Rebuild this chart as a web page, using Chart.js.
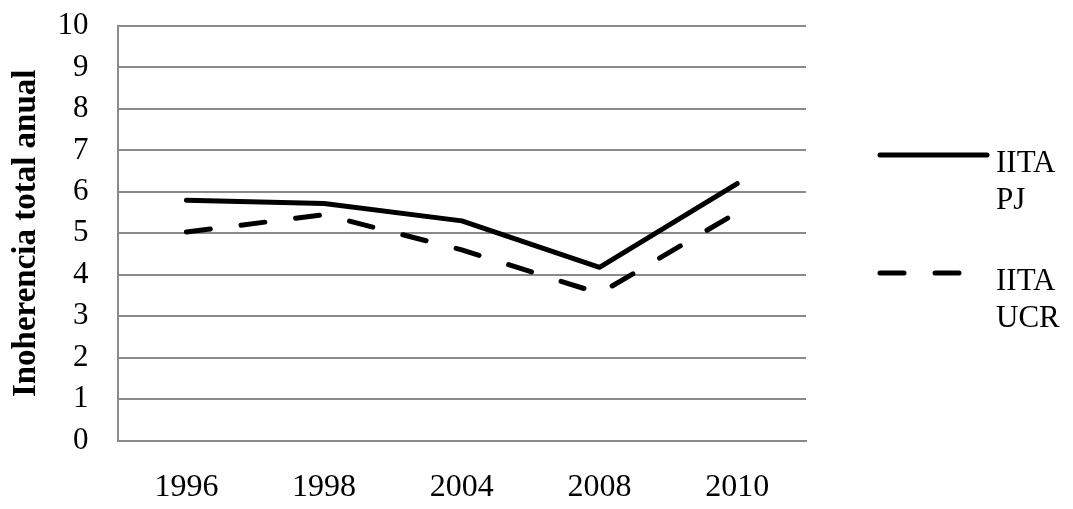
<!DOCTYPE html>
<html>
<head>
<meta charset="utf-8">
<script src="https://cdn.jsdelivr.net/npm/chart.js@4/dist/chart.umd.min.js"></script>
<style>
html,body{margin:0;padding:0;background:#fff;}
#wrap{width:1073px;height:509px;}
</style>
</head>
<body>
<div id="wrap"><canvas id="c" width="1073" height="509"></canvas></div>
<script>
const categories = ['1996', '1998', '2004', '2008', '2010'];
const seriesPJ = [5.8, 5.72, 5.3, 4.18, 6.2];
const seriesUCR = [5.03, 5.45, 4.6, 3.55, 5.5];
const labelPJ = ['IITA', 'PJ'];
const labelUCR = ['IITA', 'UCR'];
const yTitle = 'Inoherencia total anual';

const FONT = "'Liberation Serif', 'Times New Roman', serif";

const customLegend = {
  id: 'customLegend',
  afterDraw(chart) {
    const ctx = chart.ctx;
    const items = [
      {ds: chart.data.datasets[0], y: 155},
      {ds: chart.data.datasets[1], y: 273}
    ];
    ctx.save();
    items.forEach(it => {
      ctx.beginPath();
      ctx.lineWidth = it.ds.borderWidth;
      ctx.strokeStyle = it.ds.borderColor;
      ctx.lineCap = 'round';
      ctx.setLineDash(it.ds.borderDash || []);
      ctx.moveTo(880, it.y);
      ctx.lineTo(987, it.y);
      ctx.stroke();
      ctx.setLineDash([]);
      ctx.fillStyle = '#000';
      ctx.font = '31px ' + FONT;
      ctx.textBaseline = 'middle';
      ctx.textAlign = 'left';
      it.ds.label.forEach((t, i) => {
        ctx.fillText(t, 996, it.y + 9 + i * 37);
      });
    });
    ctx.restore();
  }
};

new Chart(document.getElementById('c'), {
  type: 'line',
  data: {
    labels: categories,
    datasets: [
      {
        label: labelPJ,
        data: seriesPJ,
        borderColor: '#000',
        borderWidth: 5,
        pointRadius: 0,
        tension: 0,
        borderCapStyle: 'round',
        borderJoinStyle: 'round',
        fill: false
      },
      {
        label: labelUCR,
        data: seriesUCR,
        borderColor: '#000',
        borderWidth: 5,
        borderDash: [24, 31],
        pointRadius: 0,
        tension: 0,
        borderCapStyle: 'round',
        borderJoinStyle: 'round',
        fill: false
      }
    ]
  },
  options: {
    responsive: false,
    animation: false,
    devicePixelRatio: 1,
    layout: { padding: { left: 0, right: 267, top: 26, bottom: 0 } },
    plugins: {
      legend: { display: false },
      tooltip: { enabled: false }
    },
    scales: {
      x: {
        offset: true,
        grid: { display: false, drawTicks: true, tickLength: 26, tickColor: 'rgba(0,0,0,0)' },
        border: { display: true, color: '#8a8a8a', width: 2 },
        ticks: { color: '#000', font: { family: FONT, size: 32 }, padding: 2, maxRotation: 0, autoSkip: false }
      },
      y: {
        min: 0, max: 10,
        grid: { color: '#8a8a8a', lineWidth: 2, drawTicks: true, tickLength: 26, tickColor: 'rgba(0,0,0,0)' },
        border: { display: true, color: '#8a8a8a', width: 2 },
        ticks: { stepSize: 1, color: '#000', font: { family: FONT, size: 31 }, padding: 3, autoSkip: false },
        title: { display: true, text: yTitle, color: '#000', font: { family: FONT, size: 33, weight: 'bold' }, padding: { top: 7, bottom: 8 } }
      }
    }
  },
  plugins: [customLegend]
});
</script>
</body>
</html>
